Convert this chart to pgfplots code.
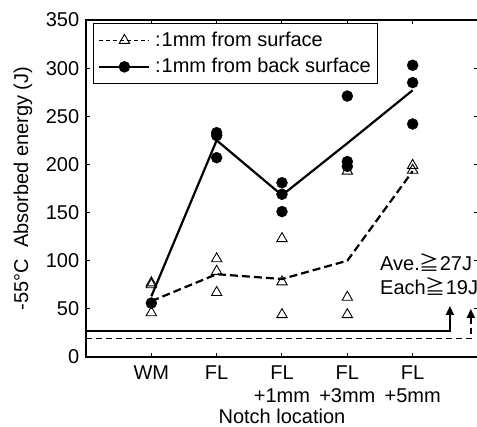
\documentclass[border=0pt]{standalone}
\usepackage{fontspec}
\setmainfont{Liberation Sans}
\newfontfamily\jp{Noto Sans CJK JP}
\usepackage{pgfplots}
\pgfplotsset{compat=1.18}
\usetikzlibrary{arrows.meta}

\begin{document}
\fontsize{20}{23}\selectfont
\begin{tikzpicture}[font=\fontsize{20}{23}\selectfont]
\path[use as bounding box] (-86pt,-70pt) rectangle (391pt,357pt);
\begin{axis}[
    at={(0pt,0pt)}, anchor=south west,
    scale only axis,
    width=392pt, height=337pt,
    xmin=0, xmax=6, ymin=0, ymax=350,
    xtick={1,2,3,4,5},
    xticklabels={WM, FL, {FL\\+1mm}, {FL\\+3mm}, {FL\\+5mm}},
    x tick label style={align=center, yshift=-2pt},
    ytick={0,50,...,350},
    tick align=inside,
    major tick length=4pt,
    axis line style={line width=1.2pt},
    every tick/.style={line width=1pt, black},
    /pgf/number format/assume math mode=true,
    xlabel={Notch location},
    ylabel={-55°C\ \ Absorbed energy (J)},
    xlabel style={yshift=7pt},
    ylabel style={yshift=0pt},
    legend cell align=left,
    legend style={at={(0.018,0.991)}, anchor=north west,
        draw=black, line width=1.2pt, inner xsep=5pt, inner ysep=6pt,
        row sep=5pt, column sep=3pt, font=\fontsize{20}{23}\selectfont},
    legend image code/.code={
        \draw[mark repeat=2, mark phase=2, #1]
            plot coordinates {(0pt,0pt) (25pt,0pt) (50pt,0pt)};},
]
\addlegendimage{black, dash pattern=on 4pt off 3pt, line width=0.8pt, mark=triangle,
    mark size=6pt, mark options={solid, fill=white, line width=0.9pt}}
\addlegendentry{:\kern1pt 1mm from surface}
\addlegendimage{black, line width=1.5pt, mark=*, mark size=5pt}
\addlegendentry{:\kern1pt 1mm from back surface}

% averages
\addplot[black, line width=2.2pt, dash pattern=on 8pt off 4pt, forget plot]
    coordinates {(1,58)(2,86)(3,81)(4,100)(5,193)};
\addplot[black, line width=2.2pt, forget plot]
    coordinates {(1,63)(2,225)(3,168)(4,222)(5,277)};

% criteria
\addplot[black, line width=1.5pt, -{Triangle[width=8pt,length=9pt]}, forget plot]
    coordinates {(0,27)(5.57,27)(5.57,53)};
\addplot[black, line width=1.5pt, dash pattern=on 6pt off 4pt,
    -{Triangle[width=8pt,length=9pt]}, forget plot]
    coordinates {(0,19)(5.89,19)(5.89,50)};

% 1mm from surface
\addplot[only marks, mark=triangle, mark size=6pt,
    mark options={black, fill=white, line width=0.9pt}, forget plot]
    coordinates {(1,77)(1,75)(1,46)
                 (2,102)(2,89)(2,67)
                 (3,123)(3,78)(3,44)
                 (4,193)(4,62)(4,44)
                 (5,199)(5,194)};
% 1mm from back surface
\addplot[only marks, mark=*, mark size=5.5pt, black, forget plot]
    coordinates {(1,56)
                 (2,233)(2,230)(2,207)
                 (3,181)(3,169)(3,151)
                 (4,271)(4,203)(4,198)
                 (5,303)(5,285)(5,242)};

\node[anchor=west, inner sep=0pt] at (axis cs:4.5,98) {Ave.{\jp ≧}27J};
\node[anchor=west, inner sep=0pt] at (axis cs:4.5,73) {Each{\jp ≧}19J};
\end{axis}
\end{tikzpicture}
\end{document}
